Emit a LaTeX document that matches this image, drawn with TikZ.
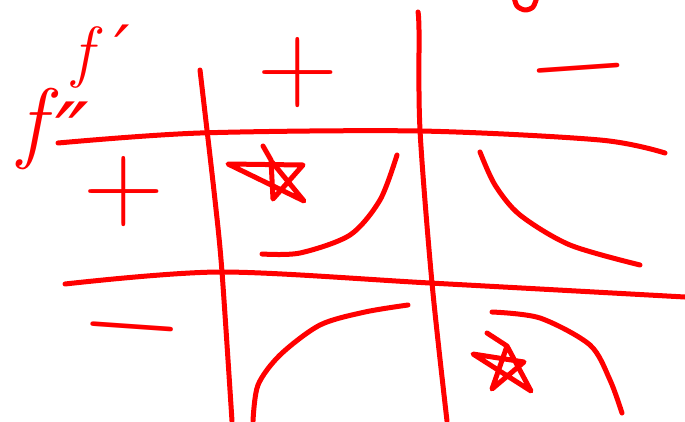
\documentclass[tikz,border=0pt]{standalone}
\usepackage{fontspec}
\newfontfamily\primefont{DejaVu Sans}
\definecolor{penRed}{RGB}{255,0,0}
\begin{document}
\begin{tikzpicture}[x=1pt,y=-1pt,
          pen/.style={penRed,line width=5pt,line cap=round,line join=round},
          sgn/.style={penRed,inner sep=0pt,font=\fontsize{112}{112}\selectfont},
          msgn/.style={penRed,inner sep=0pt,font=\fontsize{132}{132}\selectfont},
          lbl/.style={penRed,inner sep=0pt,anchor=base west},
        ]
        \useasboundingbox (0,0) rectangle (685,421);
        % grid
        \draw[pen] plot[smooth] coordinates {(58,143) (200,133) (420,131) (600,140) (665,153)};
        \draw[pen] plot[smooth] coordinates {(65,284) (220,272) (430,283) (685,297)};
        \draw[pen] plot[smooth] coordinates {(200,70) (215,200) (222,272) (232,421)};
        \draw[pen] plot[smooth] coordinates {(418,12) (419,30) (420,130) (432,283) (447,421)};
        \draw[pen] plot[smooth] coordinates {(514,-3) (517,6) (525,10) (533,7) (537,-3)};

        % labels
        \node[lbl,font=\fontsize{68}{68}\selectfont\itshape](fp)  at (72,74){f\kern22pt{\primefont ′}};
        \node[lbl,font=\fontsize{90}{90}\selectfont\itshape](fpp) at (18,151){f\kern10pt\raisebox{-16pt}{\primefont ″}};
        \node[sgn](pTop)   at (298,73){+};
        \node[msgn,rotate=4](mTop)   at (580,84){−};
        \node[sgn](pLeft)  at (124,192){+};
        \node[msgn,rotate=-4](mLeft)  at (131,342){−};

        % curves
        \draw[pen] plot[smooth] coordinates {(262,254) (300,253) (350,235) (380,200) (397,155)};
        \draw[pen] plot[smooth] coordinates {(480,152) (495,185) (520,215) (570,245) (640,265)};
        \draw[pen] plot[smooth] coordinates {(253,421) (258,385) (280,355) (320,325) (365,312) (408,305)};
        \draw[pen] plot[smooth] coordinates {(492,312) (540,318) (590,345) (610,380) (622,413)};

        % stars
        \draw[pen] (263,146)--(271,160)--(273,199)--(303,165)--(228,164)--(304,201)--(272,162);
        \draw[pen] (487,333)--(507,346)--(492,389)--(524,362)--(473,354)--(531,391)--(507,346);
      \end{tikzpicture}
\end{document}
